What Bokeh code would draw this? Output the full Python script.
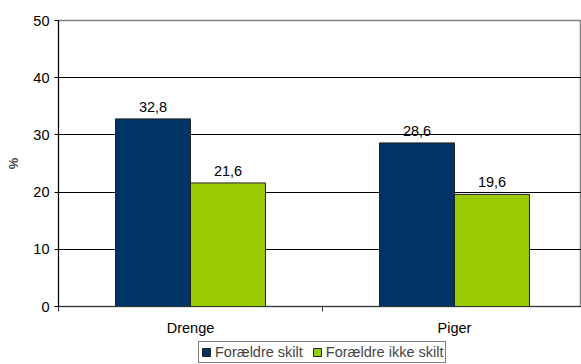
from bokeh.plotting import figure
from bokeh.layouts import column
from bokeh.models import ColumnDataSource, FixedTicker, Range1d, Legend, LegendItem, LabelSet
from bokeh.core.properties import value
from bokeh.embed import file_html
from bokeh.resources import INLINE

categories = ["Drenge", "Piger"]
series_names = ["Forældre skilt", "Forældre ikke skilt"]
skilt = [32.8, 28.6]
ikke_skilt = [21.6, 19.6]
y_ticks = [0, 10, 20, 30, 40, 50]

colors = ["#003366", "#99CC00"]
bar_w = 0.284
FONT = "Liberation Sans"
FS = "14.5px"

centers = [i + 0.5 for i in range(len(categories))]
src1 = ColumnDataSource(dict(x=[c - bar_w / 2 for c in centers], y=skilt,
                             lab=[f"{v:.1f}".replace(".", ",") for v in skilt]))
src2 = ColumnDataSource(dict(x=[c + bar_w / 2 for c in centers], y=ikke_skilt,
                             lab=[f"{v:.1f}".replace(".", ",") for v in ikke_skilt]))

p = figure(width=581, height=340, output_backend="svg", toolbar_location=None,
           x_range=Range1d(0, 523 / 264), y_range=Range1d(0, 50),
           min_border_left=58, min_border_right=0, min_border_top=20, min_border_bottom=34)
p.outline_line_color = "#808080"
p.outline_line_width = 1.5

bar_style = dict(width=bar_w, line_color="#222222", line_width=1)
r1 = p.vbar(x="x", top="y", source=src1, fill_color=colors[0], **bar_style)
r2 = p.vbar(x="x", top="y", source=src2, fill_color=colors[1], **bar_style)

for s in (src1, src2):
    p.add_layout(LabelSet(x="x", y="y", text="lab", source=s, text_align="center",
                          text_baseline="bottom", y_offset=7, text_font=value(FONT),
                          text_font_size=value(FS), text_color="#000000"))

# x axis
p.xaxis.ticker = FixedTicker(ticks=centers, minor_ticks=[0, 1, 2])
p.xaxis.major_label_overrides = {c: n for c, n in zip(centers, categories)}
p.xaxis.major_tick_out = 0
p.xaxis.major_tick_in = 0
p.xaxis.minor_tick_out = 5
p.xaxis.minor_tick_in = 0
p.xaxis.major_label_standoff = 8
p.xaxis.axis_line_color = "#333333"
p.xaxis.minor_tick_line_color = "#333333"
p.xaxis.major_label_text_font = FONT
p.xaxis.major_label_text_font_size = FS
p.xaxis.major_label_text_color = "#000000"

# y axis
p.yaxis.ticker = FixedTicker(ticks=y_ticks)
p.yaxis.major_tick_out = 4
p.yaxis.major_tick_in = 0
p.yaxis.minor_tick_line_color = None
p.yaxis.major_label_standoff = 5
p.yaxis.axis_line_color = "#000000"
p.yaxis.major_label_text_font = FONT
p.yaxis.major_label_text_font_size = FS
p.yaxis.major_label_text_color = "#000000"
p.yaxis.axis_label = "%"
p.yaxis.axis_label_text_font = FONT
p.yaxis.axis_label_text_font_size = "13px"
p.yaxis.axis_label_text_font_style = "bold"
p.yaxis.axis_label_standoff = 9

p.xgrid.grid_line_color = None
p.ygrid.ticker = FixedTicker(ticks=[10, 20, 30, 40])
p.ygrid.grid_line_color = "#000000"
p.ygrid.grid_line_width = 1

# legend strip (separate small figure below the chart)
q = figure(width=581, height=24, output_backend="svg", toolbar_location=None,
           x_axis_type=None, y_axis_type=None,
           x_range=Range1d(0, 1), y_range=Range1d(1000, 1001),
           min_border_left=0, min_border_right=0, min_border_top=0, min_border_bottom=0)
q.outline_line_color = None
q.xgrid.grid_line_color = None
q.ygrid.grid_line_color = None
l1 = q.vbar(x="x", top="y", source=src1, fill_color=colors[0], **bar_style)
l2 = q.vbar(x="x", top="y", source=src2, fill_color=colors[1], **bar_style)

legend = Legend(items=[LegendItem(label=series_names[0], renderers=[l1]),
                       LegendItem(label=series_names[1], renderers=[l2])],
                orientation="horizontal", location=(140, 1),
                border_line_color="#000000", border_line_width=1,
                padding=2, spacing=9, margin=0, glyph_width=10, glyph_height=10,
                label_standoff=4, label_text_font=FONT, label_text_font_size=FS,
                label_height=12, background_fill_alpha=1)
q.add_layout(legend, "center")

open("out.html", "w").write(file_html(column(p, q, spacing=0), INLINE))
